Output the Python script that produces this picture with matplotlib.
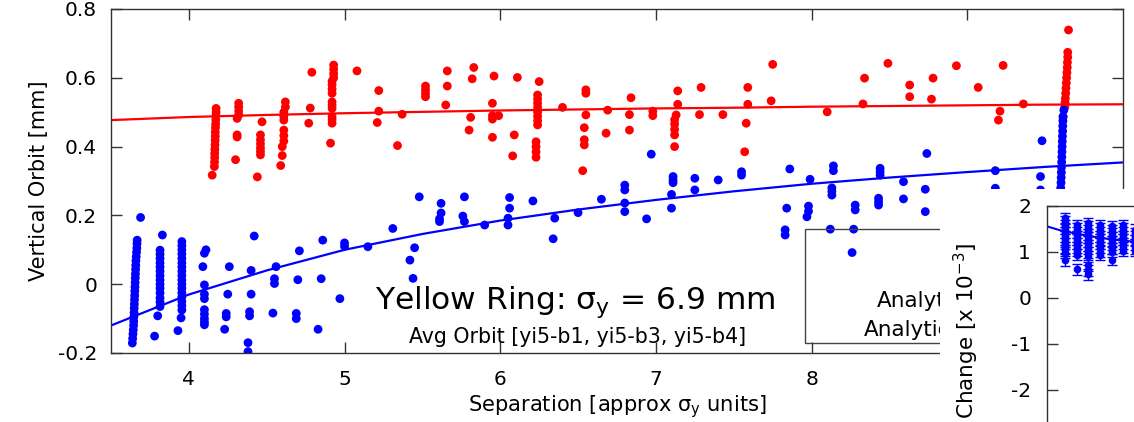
import matplotlib
matplotlib.use("Agg")
import matplotlib.pyplot as plt
from matplotlib.patches import Rectangle

plt.rcParams['font.family'] = ['DejaVu Sans']
plt.rcParams['mathtext.fontset'] = 'dejavusans'

# ---------------- data ----------------
red_x = [
    4.175, 4.175, 4.174, 4.173, 4.172, 4.171, 4.170, 4.170, 4.169, 4.168, 4.167, 4.166, 4.166, 4.165, 4.164, 4.150,
    4.32, 4.32, 4.32, 4.32, 4.31, 4.31, 4.31, 4.30,
    4.47, 4.46, 4.46, 4.46, 4.46, 4.46, 4.46, 4.44,
    4.62, 4.62, 4.61, 4.61, 4.61, 4.61, 4.61, 4.61, 4.60, 4.60, 4.59,
    4.79, 4.78, 4.77,
    4.93, 4.93, 4.93, 4.93, 4.92, 4.92, 4.92, 4.92, 4.92, 4.92, 4.92, 4.92, 4.92, 4.92, 4.91,
    5.08,
    5.22, 5.22, 5.21,
    5.34, 5.37,
    5.52, 5.52, 5.52, 5.52,
    5.66, 5.66, 5.65,
    5.81, 5.80, 5.83, 5.82,
    5.96, 5.95, 5.95, 5.95, 5.99, 5.95,
    6.09, 6.08, 6.11,
    6.25, 6.24, 6.24, 6.24, 6.24, 6.24, 6.24, 6.24, 6.24, 6.23, 6.23, 6.23, 6.23,
    6.40,
    6.55, 6.55, 6.55, 6.54, 6.54, 6.54, 6.53,
    6.69, 6.68,
    6.84, 6.83, 6.83,
    6.98, 6.98,
    7.14, 7.14, 7.13, 7.12, 7.12, 7.12, 7.12, 7.12,
    7.29, 7.28,
    7.43,
    7.59, 7.59, 7.58, 7.57,
    7.75, 7.74,
    8.10,
    8.34, 8.33,
    8.49,
    8.63, 8.63,
    8.78, 8.77,
    8.93,
    9.07,
    9.23, 9.21, 9.20,
    9.36,
    9.65,
    9.645, 9.645, 9.643, 9.642, 9.640, 9.638, 9.636, 9.634, 9.632, 9.630, 9.628, 9.626, 9.615,
]
red_y = [
    0.511, 0.500, 0.490, 0.478, 0.466, 0.455, 0.442, 0.430, 0.418, 0.405, 0.392, 0.380, 0.368, 0.355, 0.342, 0.317,
    0.526, 0.515, 0.503, 0.492, 0.482, 0.434, 0.428, 0.362,
    0.472, 0.434, 0.420, 0.408, 0.396, 0.386, 0.376, 0.312,
    0.530, 0.515, 0.500, 0.488, 0.477, 0.448, 0.432, 0.416, 0.400, 0.374, 0.345,
    0.616, 0.512, 0.468,
    0.637, 0.625, 0.612, 0.600, 0.590, 0.580, 0.567, 0.555, 0.530, 0.520, 0.511, 0.487, 0.478, 0.468, 0.410,
    0.620,
    0.563, 0.503, 0.470,
    0.403, 0.494,
    0.576, 0.565, 0.555, 0.545,
    0.620, 0.576, 0.521,
    0.485, 0.448, 0.630, 0.597,
    0.605, 0.526, 0.490, 0.480, 0.490, 0.427,
    0.434, 0.373, 0.601,
    0.589, 0.550, 0.538, 0.526, 0.514, 0.500, 0.488, 0.475, 0.463, 0.414, 0.400, 0.385, 0.369,
    0.514,
    0.565, 0.555, 0.492, 0.455, 0.420, 0.405, 0.330,
    0.506, 0.439,
    0.542, 0.493, 0.448,
    0.503, 0.490,
    0.562, 0.523, 0.492, 0.478, 0.465, 0.450, 0.434, 0.400,
    0.572, 0.493,
    0.493,
    0.572, 0.523, 0.468, 0.385,
    0.639, 0.533,
    0.501,
    0.599, 0.524,
    0.642,
    0.579, 0.545,
    0.599, 0.538,
    0.635,
    0.572,
    0.636, 0.503, 0.477,
    0.524,
    0.739,
    0.674, 0.660, 0.645, 0.630, 0.615, 0.600, 0.585, 0.570, 0.555, 0.540, 0.528, 0.515, 0.487,
]

blue_x = [
    3.69,
    3.668, 3.667, 3.666, 3.664, 3.662, 3.660, 3.659, 3.658, 3.657, 3.656, 3.655, 3.654, 3.653,
    3.652, 3.651, 3.650, 3.649, 3.648, 3.647, 3.646, 3.645, 3.643, 3.641, 3.639, 3.637,
    3.83, 3.815, 3.815, 3.815, 3.815, 3.815, 3.815, 3.815, 3.815, 3.815, 3.815, 3.815, 3.815, 3.815, 3.815,
    3.80, 3.78,
    3.955, 3.955, 3.955, 3.955, 3.955, 3.955, 3.955, 3.955, 3.955, 3.955, 3.955, 3.955, 3.955, 3.955,
    3.955, 3.955, 3.955, 3.95, 3.93,
    4.11, 4.10, 4.09, 4.10, 4.10, 4.10, 4.10, 4.10, 4.10, 4.10, 4.10,
    4.26, 4.25, 4.24, 4.24, 4.23,
    4.42, 4.40, 4.40, 4.39, 4.39, 4.38, 4.38,
    4.56, 4.55, 4.55, 4.54,
    4.71, 4.70, 4.69, 4.69,
    4.86, 4.85, 4.83,
    5.00, 5.00, 4.97,
    5.15, 5.31,
    5.48, 5.45, 5.42, 5.44,
    5.62, 5.62, 5.61, 5.61,
    5.77, 5.76, 5.77,
    5.90,
    6.06, 6.06, 6.05, 6.05,
    6.21,
    6.35, 6.34,
    6.50,
    6.65,
    6.80, 6.80, 6.80, 6.80,
    6.94, 6.97,
    7.11, 7.11, 7.11, 7.10, 7.10,
    7.25, 7.25,
    7.40,
    7.55, 7.55,
    7.86, 7.84, 7.83, 7.83,
    7.99, 7.98, 7.98, 7.97,
    8.14, 8.14, 8.13, 8.13, 8.13, 8.12,
    8.27, 8.28, 8.28, 8.26,
    8.44, 8.44, 8.44, 8.43, 8.43, 8.43,
    8.59, 8.59,
    8.74, 8.73, 8.73,
    9.18, 9.18,
    9.48, 9.47, 9.47,
    9.620, 9.615, 9.614, 9.613, 9.612, 9.611, 9.610, 9.609, 9.608, 9.607, 9.606, 9.605, 9.604,
    9.603, 9.602, 9.600, 9.598, 9.596,
]
blue_y = [
    0.194,
    0.128, 0.118, 0.105, 0.093, 0.080, 0.068, 0.055, 0.043, 0.030, 0.018, 0.005, -0.008, -0.020,
    -0.033, -0.045, -0.058, -0.070, -0.083, -0.095, -0.108, -0.120, -0.133, -0.145, -0.158, -0.171,
    0.143, 0.099, 0.087, 0.075, 0.062, 0.050, 0.038, 0.025, 0.012, 0.000, -0.012, -0.025, -0.040, -0.052, -0.065,
    -0.092, -0.151,
    0.124, 0.112, 0.100, 0.088, 0.075, 0.062, 0.050, 0.038, 0.025, 0.012, 0.000, -0.012, -0.025, -0.037,
    -0.050, -0.062, -0.075, -0.098, -0.135,
    0.100, 0.090, 0.051, -0.002, -0.029, -0.042, -0.074, -0.087, -0.100, -0.110, -0.118,
    0.051, -0.029, -0.085, -0.095, -0.131,
    0.140, 0.040, -0.029, -0.080, -0.092, -0.170, -0.196,
    0.051, 0.016, 0.002, -0.084,
    0.097, 0.013, -0.085, -0.100,
    0.128, 0.016, -0.131,
    0.120, 0.110, -0.042,
    0.109, 0.162,
    0.254, 0.106, 0.070, 0.017,
    0.235, 0.207, 0.190, 0.182,
    0.254, 0.198, 0.182,
    0.172,
    0.252, 0.221, 0.192, 0.172,
    0.242,
    0.192, 0.132,
    0.208,
    0.247,
    0.288, 0.274, 0.236, 0.211,
    0.190, 0.378,
    0.313, 0.303, 0.295, 0.261, 0.221,
    0.308, 0.274,
    0.303,
    0.327, 0.317,
    0.335, 0.221, 0.158, 0.143,
    0.305, 0.227, 0.212, 0.196,
    0.344, 0.330, 0.280, 0.270, 0.259, 0.160,
    0.160, 0.230, 0.216, 0.092,
    0.337, 0.327, 0.317, 0.250, 0.240, 0.230,
    0.298, 0.248,
    0.380, 0.276, 0.211,
    0.330, 0.279,
    0.417, 0.313, 0.274,
    0.506, 0.487, 0.475, 0.460, 0.445, 0.430, 0.415, 0.400, 0.385, 0.370, 0.355, 0.340, 0.325,
    0.310, 0.295, 0.280, 0.265, 0.250,
]

fit_x = [3.5, 4.0, 4.5, 5.0, 5.5, 6.0, 6.5, 7.0, 7.5, 8.0, 8.5, 9.0, 9.5, 10.0]
red_fit = [0.477, 0.486, 0.492, 0.497, 0.501, 0.505, 0.508, 0.511, 0.513, 0.516, 0.518, 0.520, 0.522, 0.523]
blue_fit = [-0.120, -0.030, 0.040, 0.100, 0.146, 0.185, 0.217, 0.245, 0.270, 0.292, 0.310, 0.326, 0.341, 0.354]

inset_x = (
    [3.65] * 12 + [3.80] * 10 + [3.95] * 13 + [4.10] * 9 + [4.25] * 9 + [4.40] * 8 + [4.55] * 7
)
inset_y = [
    1.73, 1.66, 1.58, 1.50, 1.42, 1.34, 1.26, 1.18, 1.10, 1.03, 0.98, 0.82,
    1.58, 1.50, 1.42, 1.34, 1.26, 1.18, 1.10, 1.02, 0.93, 0.62,
    1.62, 1.54, 1.46, 1.38, 1.30, 1.22, 1.14, 1.06, 0.98, 0.90, 0.71, 0.60, 0.51,
    1.58, 1.50, 1.42, 1.34, 1.26, 1.18, 1.10, 1.00, 0.93,
    1.55, 1.47, 1.39, 1.31, 1.23, 1.15, 1.07, 1.00, 0.83,
    1.58, 1.50, 1.42, 1.34, 1.26, 1.18, 1.10, 1.02,
    1.48, 1.40, 1.32, 1.24, 1.16, 1.08, 1.02,
]
inset_err = [0.12] * len(inset_y)
inset_fit_x = [3.42, 3.6, 3.8, 4.0, 4.2, 4.4, 4.6, 5.0]
inset_fit_y = [1.55, 1.46, 1.39, 1.33, 1.28, 1.24, 1.21, 1.15]

x_ticks = [4, 5, 6, 7, 8, 9]
x_tick_labels = ['4', '5', '6', '7', '8', '']   # "9" is hidden under the inset panel
y_ticks = [-0.2, 0.0, 0.2, 0.4, 0.6, 0.8]
y_tick_labels = ['-0.2', '0', '0.2', '0.4', '0.6', '0.8']
inset_ticks = [-2, -1, 0, 1, 2]
inset_tick_labels = ['-2', '-1', '0', '1', '2']

# ---------------- figure ----------------
W, H = 1134, 422
fig = plt.figure(figsize=(W / 100, H / 100), dpi=100)


def fx(px):
    return px / W


def fy(py):
    return 1 - py / H


ax = fig.add_axes([fx(111), fy(353), (1123 - 111) / W, (353 - 9) / H])
ax.plot(fit_x, red_fit, color='#ff0000', lw=1.6, zorder=2)
ax.plot(fit_x, blue_fit, color='#0000ff', lw=1.6, zorder=2)
ax.scatter(red_x, red_y, s=40, color='#ff0000', edgecolors='none', zorder=3)
ax.scatter(blue_x, blue_y, s=40, color='#0000ff', edgecolors='none', zorder=4)
ax.set_xlim(3.5, 10)
ax.set_ylim(-0.2, 0.8)
ax.set_xticks(x_ticks)
ax.set_xticklabels(x_tick_labels)
ax.set_yticks(y_ticks)
ax.set_yticklabels(y_tick_labels)
ax.tick_params(direction='in', length=8, width=1, top=True, right=True,
               labelsize=14.5, color='#333333')
ax.tick_params(axis='x', pad=12)
ax.tick_params(axis='y', pad=10)
for sp in ax.spines.values():
    sp.set_color('#333333')
    sp.set_linewidth(1)

ax.text(0.4585, 0.127, 'Yellow Ring: σ$_\\mathregular{y}$ = 6.9 mm', transform=ax.transAxes,
        ha='center', va='baseline', fontsize=22.5)
ax.text(0.461, 0.028, 'Avg Orbit [yi5-b1, yi5-b3, yi5-b4]', transform=ax.transAxes,
        ha='center', va='baseline', fontsize=14.8)

# legend box (partly hidden under the inset panel)
ax.add_patch(Rectangle((fx(805), fy(342.7)), (1010 - 805) / W, (342.7 - 229) / H,
                       transform=fig.transFigure, fill=False, edgecolor='#444444',
                       lw=1, clip_on=False, zorder=5))
ax.text(fx(877), fy(307), 'Analyt', transform=fig.transFigure,
        ha='left', va='baseline', fontsize=15.5, clip_on=False)
ax.text(fx(864), fy(336), 'Analytic', transform=fig.transFigure,
        ha='left', va='baseline', fontsize=15.5, clip_on=False)

fig.text(fx(39), fy(181), 'Vertical Orbit [mm]', rotation=90, ha='center', va='center',
         fontsize=15)
fig.text(fx(617), fy(411.7), 'Separation [approx σ$_\\mathregular{y}$ units]', ha='center',
         va='baseline', fontsize=15.1)

# white panel of the overlapping inset plot
fig.add_artist(Rectangle((fx(940), 0), 1 - fx(940), fy(189), transform=fig.transFigure,
                         facecolor='white', edgecolor='none', zorder=1))

iax = fig.add_axes([fx(1047), fy(435.7), 400 / W, 230 / H], zorder=2)
iax.set_facecolor('white')
iax.plot(inset_fit_x, inset_fit_y, color='#0000ff', lw=1.5, zorder=2)
iax.errorbar(inset_x, inset_y, yerr=inset_err, fmt='o', color='#0000ff', ms=4.5,
             elinewidth=1, capsize=3.5, capthick=1, zorder=3)
iax.set_xlim(3.42, 3.42 + 400 / 78)
iax.set_ylim(-3, 2)
iax.set_yticks(inset_ticks)
iax.set_yticklabels(inset_tick_labels)
iax.set_xticks([])
iax.tick_params(axis='y', direction='in', length=8, width=1, labelsize=14.5, pad=11.5,
                color='#333333')
for sp in iax.spines.values():
    sp.set_color('#333333')
    sp.set_linewidth(1)
fig.text(fx(966), fy(243), 'Change [x 10$^\\mathregular{-3}$]', rotation=90, ha='center',
         va='top', fontsize=15.5, zorder=3)

fig.savefig('out.png', dpi=100)
